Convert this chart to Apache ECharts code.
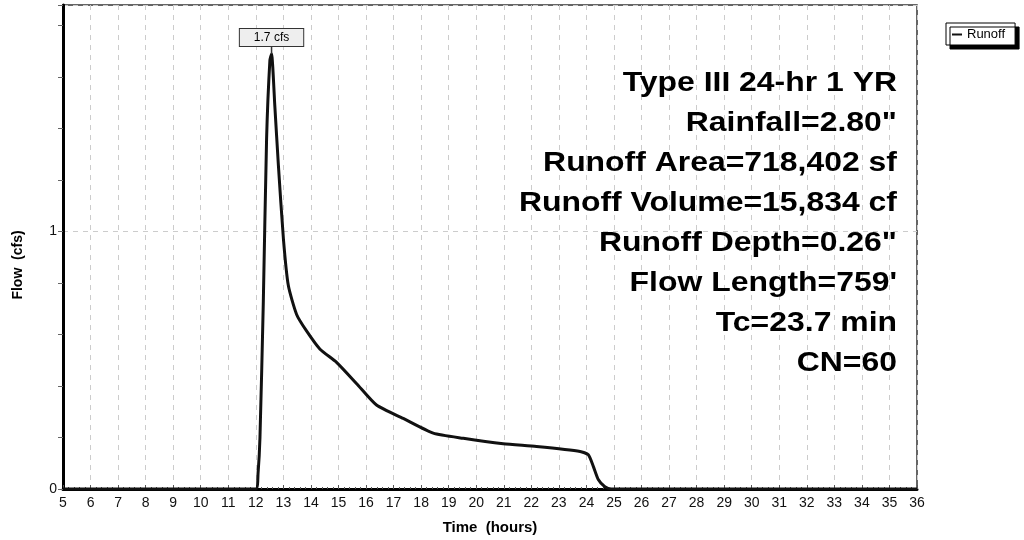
<!DOCTYPE html>
<html>
<head>
    <meta charset="UTF-8">
    <title>Runoff Hydrograph</title>
    <script type="text/javascript" src="https://cdn.jsdelivr.net/npm/echarts@6/dist/echarts.min.js"></script>
    <style>
        html, body { margin: 0; padding: 0; background: #fff; }
        #chart { width: 1024px; height: 540px; }
    </style>
</head>
<body>
<div id="chart"></div>

<script type="text/javascript">
    var hours = [5, 12.0, 12.08, 12.15, 12.27, 12.39, 12.51, 12.57, 12.69, 12.82, 13.0, 13.18, 13.48, 13.84, 14.33, 14.93,
        15.66, 16.38, 17.35, 18.44, 19.53, 20.98, 22.19, 23.77, 24.07, 24.25, 24.43, 24.67, 24.9, 36];
    var flow = [0, 0, 0.06, 0.2, 0.72, 1.36, 1.665, 1.69, 1.486, 1.255, 0.973, 0.79, 0.678, 0.614, 0.543, 0.492,
        0.409, 0.326, 0.274, 0.217, 0.197, 0.176, 0.165, 0.146, 0.133, 0.088, 0.037, 0.009, 0, 0];

    var seriesName = 'Runoff';
    var infoLines = [
        'Type III 24-hr 1 YR',
        'Rainfall=2.80"',
        'Runoff Area=718,402 sf',
        'Runoff Volume=15,834 cf',
        'Runoff Depth=0.26"',
        'Flow Length=759\'',
        'Tc=23.7 min',
        'CN=60'
    ];

    var points = [];
    for (var i = 0; i < hours.length; i++) {
        points.push([hours[i], flow[i]]);
    }

    var font = '"Liberation Sans", Arial, sans-serif';
    var chart = echarts.init(document.getElementById('chart'));

    chart.setOption({
        animation: false,
        textStyle: { fontFamily: font },
        grid: {
            left: 63,
            right: 107,
            top: 5,
            bottom: 47,
            show: true,
            borderColor: '#333',
            borderWidth: 1.5,
            backgroundColor: '#fff'
        },
        legend: {
            left: 946,
            top: 23,
            data: [seriesName],
            icon: 'rect',
            itemWidth: 10,
            itemHeight: 2,
            itemGap: 4,
            padding: [5, 10, 4, 6],
            backgroundColor: '#fff',
            borderColor: '#000',
            borderWidth: 1,
            borderRadius: 0,
            shadowColor: '#000',
            shadowBlur: 0,
            shadowOffsetX: 4,
            shadowOffsetY: 4,
            textStyle: { fontSize: 13, color: '#000', fontFamily: font }
        },
        xAxis: {
            type: 'value',
            min: 5,
            max: 36,
            interval: 1,
            name: 'Time  (hours)',
            nameLocation: 'middle',
            nameGap: 31,
            nameTextStyle: { fontWeight: 'bold', fontSize: 15, color: '#000', fontFamily: font },
            axisLine: { show: true, lineStyle: { color: '#000', width: 3 } },
            axisTick: { show: true, inside: true, length: 4, lineStyle: { color: '#555', width: 1 } },
            minorTick: { show: true, splitNumber: 5, length: 2, lineStyle: { color: '#555' } },
            axisLabel: { fontSize: 14, color: '#111', margin: 7, fontFamily: font },
            splitLine: { show: true, lineStyle: { color: '#cccccc', type: [5, 5], width: 1 } }
        },
        yAxis: [{
            type: 'value',
            min: 0,
            max: 1.88,
            interval: 0.2,
            name: 'Flow  (cfs)',
            nameLocation: 'middle',
            nameGap: 38,
            nameTextStyle: { fontWeight: 'bold', fontSize: 14, color: '#000', fontFamily: font, padding: [0, 36, 0, 0] },
            axisLine: { show: true, lineStyle: { color: '#000', width: 3 } },
            axisTick: { show: true, length: 5, lineStyle: { color: '#666', width: 1 } },
            axisLabel: {
                fontSize: 14,
                color: '#111',
                margin: 6,
                fontFamily: font,
                formatter: function(v) {
                    return (v === 0 || v === 1) ? String(v) : '';
                }
            },
            splitLine: { show: false }
        }, {
            // only used for the dashed line at 1 cfs
            type: 'value',
            min: 0,
            max: 1.88,
            interval: 1,
            axisLine: { show: false },
            axisTick: { show: false },
            axisLabel: { show: false },
            splitLine: { show: true, lineStyle: { color: '#cccccc', type: [5, 5], width: 1 } }
        }],
        graphic: [{
            type: 'text',
            x: 897,
            y: 63,
            scaleX: 1.14,
            z: 10,
            style: {
                text: infoLines.join('\n'),
                align: 'right',
                verticalAlign: 'top',
                lineHeight: 40,
                fill: '#000',
                font: 'bold 28px ' + font
            }
        }],
        series: [{
            name: seriesName,
            type: 'line',
            data: points,
            showSymbol: false,
            symbol: 'none',
            smooth: 0.2,
            lineStyle: { color: '#111', width: 3 },
            itemStyle: { color: '#111' },
            markPoint: {
                symbol: 'rect',
                symbolSize: [1.5, 8],
                symbolOffset: [0, -4],
                itemStyle: { color: '#333' },
                label: {
                    show: true,
                    position: 'top',
                    distance: 0,
                    fontSize: 12,
                    color: '#000',
                    fontFamily: font,
                    backgroundColor: '#eeeeee',
                    borderColor: '#333',
                    borderWidth: 1,
                    padding: [3, 14, 2, 14],
                    formatter: function(p) {
                        return p.value.toFixed(1) + ' cfs';
                    }
                },
                data: [{ type: 'max', name: 'peak' }]
            }
        }]
    });
</script>
</body>
</html>
